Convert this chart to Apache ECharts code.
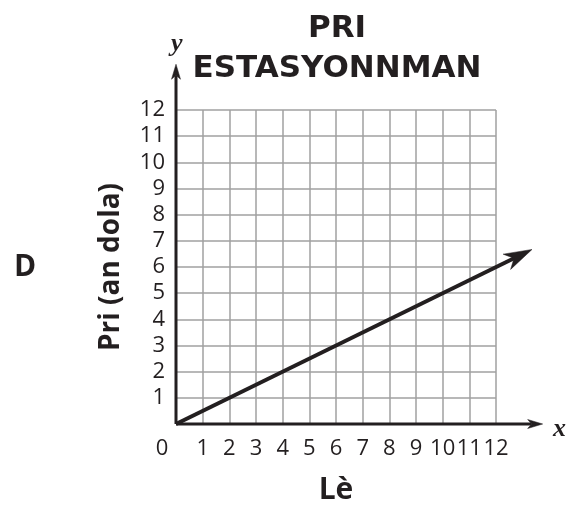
<!doctype html>
<html lang="ht">
<head>
<meta charset="utf-8">
<script src="https://cdn.jsdelivr.net/npm/echarts@6/dist/echarts.min.js"></script>
<style>
  html, body { margin: 0; padding: 0; background: #fff; }
</style>
</head>
<body>
<div id="main" style="width: 578px; height: 510px;"></div>

<script type="text/javascript">
    // done yo
    var axisTicks = [0, 1, 2, 3, 4, 5, 6, 7, 8, 9, 10, 11, 12];
    var priX = [0, 13.35];      // Lè (pwent flèch la)
    var priY = [0, 6.67];       // Pri (an dola)
    var axisEnd = 13.75;        // kote flèch aks yo fini

    var ink = '#231f20';
    var myChart = echarts.init(document.getElementById('main'));

    // liy ak yon flèch nan bout li, desine ak api.coord
    function arrowSeries(name, xs, ys, width, headLen, headHalf, notch) {
        return {
            name: name,
            type: 'custom',
            silent: true,
            clip: false,
            z: 5,
            data: [[xs[0], ys[0], xs[1], ys[1]]],
            renderItem: function (params, api) {
                var p0 = api.coord([api.value(0), api.value(1)]);
                var p1 = api.coord([api.value(2), api.value(3)]);
                var dx = p1[0] - p0[0], dy = p1[1] - p0[1];
                var len = Math.sqrt(dx * dx + dy * dy);
                var ux = dx / len, uy = dy / len;
                var nx = -uy, ny = ux;
                var bx = p1[0] - ux * headLen, by = p1[1] - uy * headLen;
                var mx = p1[0] - ux * notch, my = p1[1] - uy * notch;
                return {
                    type: 'group',
                    children: [
                        {
                            type: 'line',
                            shape: {x1: p0[0], y1: p0[1], x2: mx, y2: my},
                            style: {stroke: ink, lineWidth: width}
                        },
                        {
                            type: 'polygon',
                            shape: {points: [
                                [p1[0], p1[1]],
                                [bx + nx * headHalf, by + ny * headHalf],
                                [mx, my],
                                [bx - nx * headHalf, by - ny * headHalf]
                            ]},
                            style: {fill: ink, stroke: ink, lineWidth: 0.5}
                        }
                    ]
                };
            }
        };
    }

    myChart.setOption({
        animation: false,
        title: {
            text: 'PRI\nESTASYONNMAN',
            left: 337,
            top: 9,
            padding: 0,
            textAlign: 'center',
            textStyle: {
                fontFamily: 'DejaVu Sans',
                fontWeight: 'bold',
                fontSize: 31,
                lineHeight: 40,
                color: ink
            }
        },
        grid: {left: 176, top: 110, width: 320, height: 320, containLabel: false},
        xAxis: {
            type: 'value',
            min: axisTicks[0], max: axisTicks[axisTicks.length - 1], interval: 1,
            name: 'Lè',
            nameLocation: 'middle',
            nameGap: 51,
            nameTextStyle: {fontFamily: 'Open Sans', fontWeight: 'bold', fontSize: 30, color: ink},
            axisLine: {show: false},
            axisTick: {show: false},
            axisLabel: {
                margin: 14,
                fontFamily: 'Open Sans', fontSize: 22, color: ink,
                formatter: function (v) { return v === 0 ? '{z|0}' : String(v); },
                rich: {z: {fontFamily: 'Open Sans', fontSize: 22, color: ink, padding: [0, 28, 0, 0]}}
            },
            splitLine: {show: true, lineStyle: {color: '#a0a0a0', width: 1.5}}
        },
        yAxis: {
            type: 'value',
            min: axisTicks[0], max: axisTicks[axisTicks.length - 1], interval: 1,
            name: 'Pri (an dola)',
            nameLocation: 'middle',
            nameGap: 51,
            nameTextStyle: {fontFamily: 'Open Sans', fontWeight: 'bold', fontSize: 28, color: ink},
            axisLine: {show: false},
            axisTick: {show: false},
            axisLabel: {
                margin: 11,
                fontFamily: 'Open Sans', fontSize: 22, color: ink,
                formatter: function (v) { return v === 0 ? '' : String(v); }
            },
            splitLine: {show: true, lineStyle: {color: '#a0a0a0', width: 1.5}}
        },
        graphic: [
            {type: 'text', left: 14, top: 252, style: {text: 'D', font: 'bold 30px "Open Sans"', fill: ink}},
            {type: 'text', left: 553, top: 416, style: {text: 'x', font: 'italic bold 26px "Liberation Serif"', fill: ink}},
            {type: 'text', left: 171, top: 31, style: {text: 'y', font: 'italic bold 26px "Liberation Serif"', fill: ink}}
        ],
        series: [
            arrowSeries('aks x', [0, axisEnd], [0, 0], 3, 15, 4.5, 11),
            arrowSeries('aks y', [0, 0], [0, axisEnd], 3, 15, 4.5, 11),
            arrowSeries('Pri', priX, priY, 4, 28, 8.5, 20)
        ]
    });
</script>
</body>
</html>
